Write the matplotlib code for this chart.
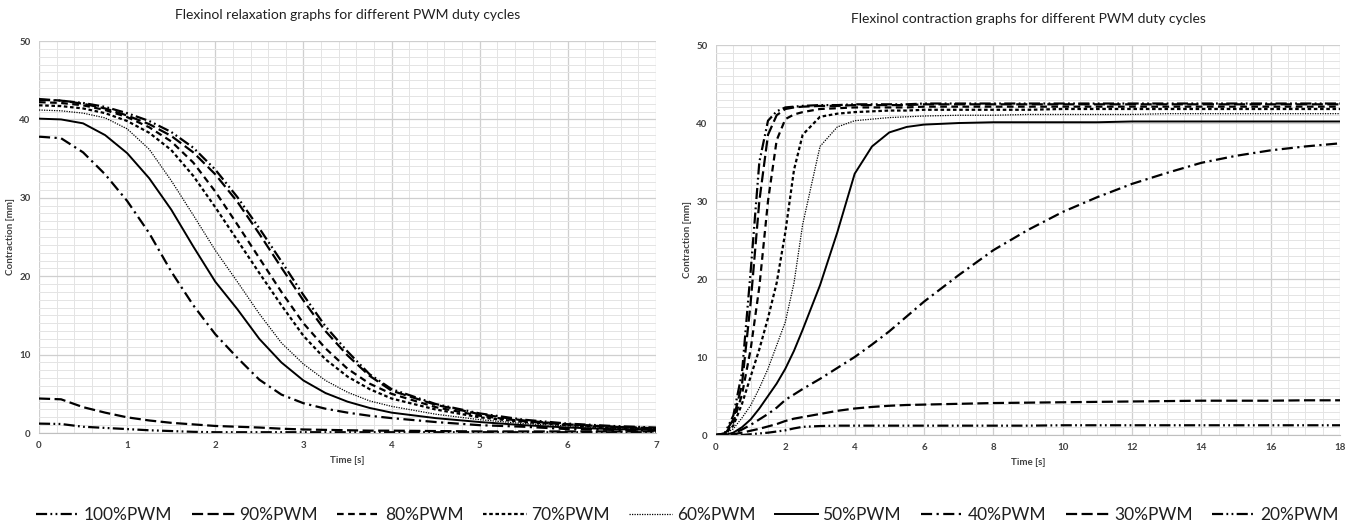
import matplotlib
matplotlib.use("Agg")
import matplotlib.pyplot as plt
from matplotlib.ticker import MultipleLocator

plt.rcParams["font.family"] = ["Lato", "DejaVu Sans"]

LABELS = ["100%PWM", "90%PWM", "80%PWM", "70%PWM", "60%PWM",
          "50%PWM", "40%PWM", "30%PWM", "20%PWM"]

# relaxation (left)
t_relax = [0, 0.25, 0.5, 0.75, 1, 1.25, 1.5, 1.75, 2, 2.25, 2.5, 2.75, 3,
           3.25, 3.5, 3.75, 4, 4.5, 5, 5.5, 6, 6.5, 7]
relax_100 = [42.5, 42.4, 42.1, 41.6, 40.8, 39.8, 38.4, 36.4, 33.6, 30.1, 26.1, 21.9, 17.6,
             13.6, 10.4, 7.5, 5.6, 3.7, 2.5, 1.7, 1.2, 0.9, 0.7]
relax_90 = [42.6, 42.4, 42.0, 41.4, 40.5, 39.4, 37.9, 35.8, 33.0, 29.5, 25.4, 21.1, 16.9,
            13.0, 9.9, 7.3, 5.4, 3.6, 2.4, 1.6, 1.1, 0.8, 0.6]
relax_80 = [42.2, 42.1, 41.8, 41.2, 40.3, 39.0, 37.2, 34.5, 30.8, 26.6, 22.3, 18.0, 14.0,
            10.8, 8.2, 6.3, 5.0, 3.3, 2.2, 1.5, 1.1, 0.8, 0.6]
relax_70 = [41.8, 41.7, 41.4, 40.8, 39.8, 38.3, 36.1, 32.8, 28.8, 24.6, 20.4, 16.3, 12.4,
            9.4, 7.2, 5.6, 4.4, 3.0, 2.0, 1.4, 1.0, 0.7, 0.5]
relax_60 = [41.2, 41.1, 40.8, 40.2, 38.8, 36.2, 32.2, 27.8, 23.3, 19.3, 15.2, 11.5, 8.8,
            6.7, 5.2, 4.1, 3.4, 2.4, 1.7, 1.2, 0.9, 0.6, 0.5]
relax_50 = [40.1, 40.0, 39.5, 38.0, 35.7, 32.5, 28.5, 23.8, 19.3, 15.8, 12.0, 9.0, 6.7,
            5.1, 4.0, 3.2, 2.6, 1.9, 1.4, 1.0, 0.7, 0.5, 0.4]
relax_40 = [37.8, 37.6, 35.8, 33.0, 29.6, 25.5, 20.6, 16.3, 12.6, 9.6, 6.8, 4.9, 3.8,
            3.1, 2.6, 2.2, 1.9, 1.4, 1.0, 0.8, 0.5, 0.4, 0.3]
relax_30 = [4.4, 4.3, 3.3, 2.6, 2.0, 1.6, 1.3, 1.1, 0.9, 0.8, 0.7, 0.55, 0.45,
            0.4, 0.35, 0.3, 0.3, 0.25, 0.2, 0.2, 0.2, 0.2, 0.2]
relax_20 = [1.2, 1.15, 0.8, 0.65, 0.5, 0.35, 0.25, 0.15, 0.1, 0.1, 0.1, 0.1, 0.1,
            0.1, 0.1, 0.1, 0.1, 0.1, 0.1, 0.1, 0.1, 0.1, 0.1]

# contraction (right)
t_contr = [0, 0.25, 0.5, 0.75, 1, 1.25, 1.5, 1.75, 2, 2.25, 2.5, 3, 3.5, 4, 4.5, 5,
           5.5, 6, 7, 8, 9, 10, 11, 12, 13, 14, 15, 16, 17, 18]
contr_100 = [0, 0.2, 2.5, 8, 21, 35, 40.3, 41.5, 42, 42.1, 42.2, 42.3, 42.3, 42.4, 42.4, 42.4,
             42.4, 42.5, 42.5, 42.5, 42.5, 42.5, 42.5, 42.5, 42.5, 42.5, 42.5, 42.5, 42.5, 42.5]
contr_90 = [0, 0.2, 2.0, 6.5, 17, 30, 38.5, 41, 41.8, 42, 42.1, 42.2, 42.2, 42.3, 42.3, 42.3,
            42.3, 42.4, 42.4, 42.4, 42.4, 42.4, 42.4, 42.4, 42.4, 42.4, 42.4, 42.4, 42.4, 42.4]
contr_80 = [0, 0.1, 1.6, 5.2, 11, 19, 30, 37.8, 40.5, 41.1, 41.4, 41.8, 41.9, 42.0, 42.0, 42.0,
            42.0, 42.1, 42.1, 42.1, 42.1, 42.1, 42.1, 42.1, 42.1, 42.1, 42.1, 42.1, 42.1, 42.1]
contr_70 = [0, 0.1, 1.2, 4, 7.5, 11, 15, 19.5, 26, 34, 38.5, 40.8, 41.2, 41.4, 41.5, 41.6,
            41.6, 41.7, 41.7, 41.7, 41.7, 41.8, 41.8, 41.8, 41.8, 41.8, 41.8, 41.8, 41.8, 41.8]
contr_60 = [0, 0.1, 0.8, 2.2, 3.8, 6, 8.5, 11.5, 14.5, 19.5, 27, 37, 39.5, 40.3, 40.5, 40.7,
            40.8, 40.9, 41.0, 41.0, 41.1, 41.1, 41.1, 41.1, 41.2, 41.2, 41.2, 41.2, 41.2, 41.2]
contr_50 = [0, 0, 0.3, 1.0, 2.0, 3.4, 5.0, 6.6, 8.5, 10.8, 13.5, 19.2, 26, 33.5, 37, 38.8,
            39.5, 39.8, 40.0, 40.1, 40.1, 40.1, 40.1, 40.2, 40.2, 40.2, 40.2, 40.2, 40.2, 40.2]
contr_40 = [0, 0, 0.2, 0.7, 1.3, 2.0, 2.7, 3.5, 4.5, 5.2, 5.9, 7.2, 8.6, 10.0, 11.6, 13.3,
            15.2, 17.1, 20.5, 23.7, 26.3, 28.6, 30.5, 32.2, 33.6, 34.9, 35.8, 36.5, 37.0, 37.4]
contr_30 = [0, 0, 0.1, 0.3, 0.55, 0.8, 1.1, 1.4, 1.8, 2.1, 2.3, 2.7, 3.1, 3.4, 3.6, 3.75,
            3.85, 3.9, 4.0, 4.1, 4.15, 4.2, 4.25, 4.3, 4.35, 4.4, 4.4, 4.4, 4.45, 4.45]
contr_20 = [0, 0, 0, 0, 0.1, 0.2, 0.3, 0.45, 0.6, 0.85, 1.05, 1.15, 1.2, 1.2, 1.2, 1.2,
            1.2, 1.2, 1.2, 1.2, 1.2, 1.25, 1.25, 1.25, 1.25, 1.25, 1.25, 1.25, 1.25, 1.25]

RELAX = [relax_100, relax_90, relax_80, relax_70, relax_60,
         relax_50, relax_40, relax_30, relax_20]
CONTR = [contr_100, contr_90, contr_80, contr_70, contr_60,
         contr_50, contr_40, contr_30, contr_20]

# (linewidth, dash pattern) per series
STYLES = [
    (1.6, (0, (5, 1.5, 0.8, 1.5, 0.8, 1.5))),
    (1.6, (0, (5, 2))),
    (1.6, (0, (3, 2))),
    (1.6, (0, (1.6, 1.2))),
    (0.9, (0, (1, 1))),
    (1.4, "-"),
    (1.6, (0, (5, 2, 1, 2))),
    (1.6, (0, (5, 2))),
    (1.6, (0, (5, 1.5, 0.8, 1.5, 0.8, 1.5))),
]

TXT = "#404040"


def style_axes(ax, xmax, xmajor, xminor, title):
    ax.set_xlim(0, xmax)
    ax.set_ylim(0, 50)
    ax.xaxis.set_major_locator(MultipleLocator(xmajor))
    ax.xaxis.set_minor_locator(MultipleLocator(xminor))
    ax.yaxis.set_major_locator(MultipleLocator(10))
    ax.yaxis.set_minor_locator(MultipleLocator(1))
    ax.grid(which="major", color="#cfcfcf", linewidth=0.9, zorder=0)
    ax.grid(which="minor", color="#e4e4e4", linewidth=0.7, zorder=0)
    ax.set_axisbelow(True)
    for side in ["top", "right", "left"]:
        ax.spines[side].set_visible(False)
    ax.spines["bottom"].set_color("#bfbfbf")
    ax.tick_params(which="both", length=0, labelsize=7, labelcolor=TXT, pad=6)
    for lab in ax.get_xticklabels() + ax.get_yticklabels():
        lab.set_fontweight("bold")
    ax.set_xlabel("Time [s]", fontsize=7, color=TXT, fontweight="bold", labelpad=4)
    ax.set_ylabel("Contraction [mm]", fontsize=7, color=TXT, fontweight="bold", labelpad=3)
    ax.set_title(title, fontsize=10, color="#202020", pad=16)


fig = plt.figure(figsize=(13.54, 5.28), dpi=100)
ax_l = fig.add_axes([0.0288, 0.1799, 0.4557, 0.7424])
ax_r = fig.add_axes([0.5288, 0.1761, 0.4609, 0.7386])

handles = []
for vals, (lw, ls), label in zip(RELAX, STYLES, LABELS):
    h, = ax_l.plot(t_relax, vals, color="black", linewidth=lw, linestyle=ls, label=label)
    handles.append(h)
for vals, (lw, ls) in zip(CONTR, STYLES):
    ax_r.plot(t_contr, vals, color="black", linewidth=lw, linestyle=ls)

style_axes(ax_l, 7, 1, 0.2, "Flexinol relaxation graphs for different PWM duty cycles")
style_axes(ax_r, 18, 2, 0.5, "Flexinol contraction graphs for different PWM duty cycles")

fig.legend(handles, LABELS, loc="lower left", bbox_to_anchor=(0.015, -0.02, 0.985, 0.08),
           mode="expand", ncol=9, frameon=False, fontsize=12.5, handlelength=2.5,
           handletextpad=0.25, columnspacing=0.3, labelcolor="#202020")

fig.savefig("out.png", dpi=100)
